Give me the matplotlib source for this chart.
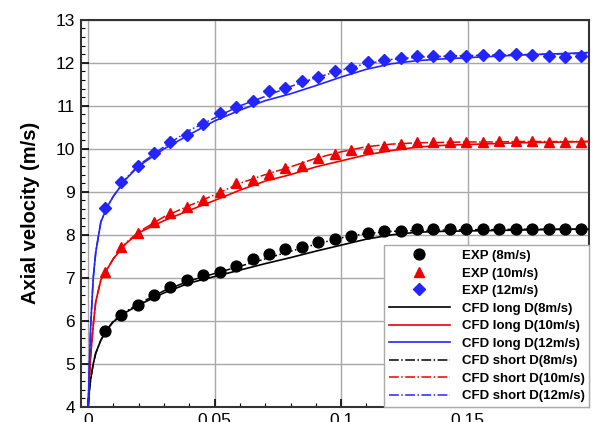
import numpy as np
import matplotlib
matplotlib.use('Agg')
import matplotlib.pyplot as plt
from matplotlib.ticker import MultipleLocator

plt.rcParams['font.family'] = ['Liberation Sans', 'DejaVu Sans']

# experimental points, x = 0.0065 * k
x_exp = [0.0065, 0.013, 0.0195, 0.026, 0.0325, 0.039, 0.0455, 0.052, 0.0585, 0.065,
         0.0715, 0.078, 0.0845, 0.091, 0.0975, 0.104, 0.1105, 0.117, 0.1235, 0.13,
         0.1365, 0.143, 0.1495, 0.156, 0.1625, 0.169, 0.1755, 0.182, 0.1885, 0.195]
exp_8 = [5.77, 6.13, 6.36, 6.59, 6.78, 6.95, 7.06, 7.14, 7.28, 7.43,
         7.55, 7.66, 7.71, 7.83, 7.91, 7.98, 8.04, 8.08, 8.10, 8.13,
         8.13, 8.13, 8.14, 8.14, 8.14, 8.14, 8.14, 8.14, 8.14, 8.14]
exp_10 = [7.14, 7.71, 8.05, 8.29, 8.50, 8.65, 8.81, 9.00, 9.20, 9.28,
          9.42, 9.55, 9.61, 9.78, 9.88, 9.98, 10.02, 10.07, 10.12, 10.15,
          10.15, 10.17, 10.17, 10.17, 10.19, 10.19, 10.19, 10.17, 10.15, 10.15]
exp_12 = [8.62, 9.22, 9.60, 9.90, 10.17, 10.33, 10.58, 10.83, 10.98, 11.12,
          11.35, 11.41, 11.58, 11.68, 11.82, 11.89, 12.02, 12.07, 12.11, 12.15,
          12.15, 12.16, 12.16, 12.19, 12.19, 12.20, 12.19, 12.15, 12.13, 12.15]

# CFD profiles
x_cfd = [0, 0.0005, 0.001, 0.002, 0.003, 0.005, 0.0075, 0.01, 0.015, 0.02,
         0.03, 0.04, 0.05, 0.06, 0.07, 0.08, 0.09, 0.10, 0.11, 0.12,
         0.13, 0.14, 0.15, 0.16, 0.17, 0.18, 0.19, 0.198]
long_8 = [4.0, 4.4, 4.65, 5.0, 5.25, 5.55, 5.80, 5.98, 6.20, 6.37,
          6.65, 6.88, 7.03, 7.18, 7.33, 7.47, 7.62, 7.76, 7.90, 8.00,
          8.06, 8.08, 8.09, 8.10, 8.11, 8.12, 8.13, 8.13]
long_10 = [4.0, 4.7, 5.2, 5.9, 6.45, 6.95, 7.2, 7.45, 7.80, 8.05,
           8.33, 8.57, 8.80, 9.04, 9.25, 9.40, 9.58, 9.72, 9.86, 9.96,
           10.04, 10.08, 10.10, 10.12, 10.14, 10.15, 10.16, 10.17]
long_12 = [4.0, 5.0, 5.9, 7.0, 7.6, 8.3, 8.65, 8.9, 9.3, 9.6,
           10.0, 10.33, 10.65, 10.9, 11.12, 11.28, 11.47, 11.67, 11.85, 11.98,
           12.05, 12.09, 12.12, 12.15, 12.18, 12.20, 12.22, 12.24]
short_8 = [4.0, 4.4, 4.65, 5.0, 5.25, 5.55, 5.80, 6.0, 6.22, 6.40,
           6.70, 6.93, 7.10, 7.27, 7.44, 7.62, 7.78, 7.93, 8.03, 8.08,
           8.10, 8.11, 8.12, 8.12, 8.13, 8.13, 8.13, 8.13]
short_10 = [4.0, 4.7, 5.2, 5.9, 6.45, 6.95, 7.2, 7.45, 7.82, 8.07,
            8.42, 8.68, 8.93, 9.20, 9.40, 9.58, 9.78, 9.93, 10.05, 10.11,
            10.14, 10.15, 10.16, 10.16, 10.17, 10.17, 10.17, 10.17]
short_12 = [4.0, 5.0, 5.9, 7.0, 7.6, 8.3, 8.65, 8.9, 9.32, 9.62,
            10.05, 10.43, 10.72, 11.0, 11.22, 11.45, 11.65, 11.83, 11.98, 12.08,
            12.13, 12.15, 12.17, 12.18, 12.19, 12.20, 12.21, 12.22]

BLACK = 'black'
RED = '#ee0000'
BLUE = '#2424ff'

fig = plt.figure(figsize=(5.92, 4.22), dpi=100)
ax = fig.add_axes([0.137, 0.036, 0.858, 0.917])

ax.plot(x_exp, exp_8, 'o', color=BLACK, ms=7.8, label='EXP (8m/s)', zorder=4)
ax.plot(x_exp, exp_10, '^', color=RED, ms=7, label='EXP (10m/s)', zorder=4)
ax.plot(x_exp, exp_12, 'D', color=BLUE, ms=6.5, label='EXP (12m/s)', zorder=4)
ax.plot(x_cfd, long_8, '-', color=BLACK, lw=1.2, label='CFD long D(8m/s)', zorder=3)
ax.plot(x_cfd, long_10, '-', color=RED, lw=1.2, label='CFD long D(10m/s)', zorder=3)
ax.plot(x_cfd, long_12, '-', color=BLUE, lw=1.2, label='CFD long D(12m/s)', zorder=3)
ax.plot(x_cfd, short_8, '-.', color=BLACK, lw=1.1, label='CFD short D(8m/s)', zorder=3)
ax.plot(x_cfd, short_10, '-.', color=RED, lw=1.1, label='CFD short D(10m/s)', zorder=3)
ax.plot(x_cfd, short_12, '-.', color=BLUE, lw=1.1, label='CFD short D(12m/s)', zorder=3)

ax.set_xlim(-0.0028, 0.198)
ax.set_ylim(4, 13)
ax.xaxis.set_major_locator(MultipleLocator(0.05))
ax.xaxis.set_minor_locator(MultipleLocator(0.01))
ax.yaxis.set_major_locator(MultipleLocator(1))
ax.yaxis.set_minor_locator(MultipleLocator(0.2))
ax.set_xticks([0, 0.05, 0.1, 0.15])
ax.set_xticklabels(['0', '0.05', '0.1', '0.15'])

ax.grid(True, which='major', color='#a8a8a8', lw=1.0, zorder=1)
# faint dots at minor grid crossings
mx = [v for v in np.arange(0.01, 0.2, 0.01) if abs(v / 0.05 - round(v / 0.05)) > 1e-6]
my = [v for v in np.arange(4.2, 13, 0.2) if abs(v - round(v)) > 1e-6]
gx, gy = np.meshgrid(mx, my)
ax.scatter(gx.ravel(), gy.ravel(), s=0.5, color='#d4d4d4', marker='s', lw=0, zorder=1)

ax.tick_params(which='major', direction='in', length=6, width=1.2, labelsize=12.5, pad=4.5,
               top=False, right=False)
ax.tick_params(which='minor', direction='in', length=3, width=0.8, top=False, right=False)
for s in ax.spines.values():
    s.set_color('#333333')
    s.set_linewidth(1.5)

ax.set_ylabel('Axial velocity (m/s)', fontsize=14.5, fontweight='bold', labelpad=11)

leg = ax.legend(loc='lower right', borderaxespad=0, prop={'weight': 'bold', 'size': 9.5},
                handlelength=4.6, labelspacing=0.4, fancybox=False, framealpha=1,
                edgecolor='#aaaaaa', handletextpad=0.9, borderpad=0.35)
leg.get_frame().set_linewidth(1.0)

fig.savefig('out.png', dpi=100)
